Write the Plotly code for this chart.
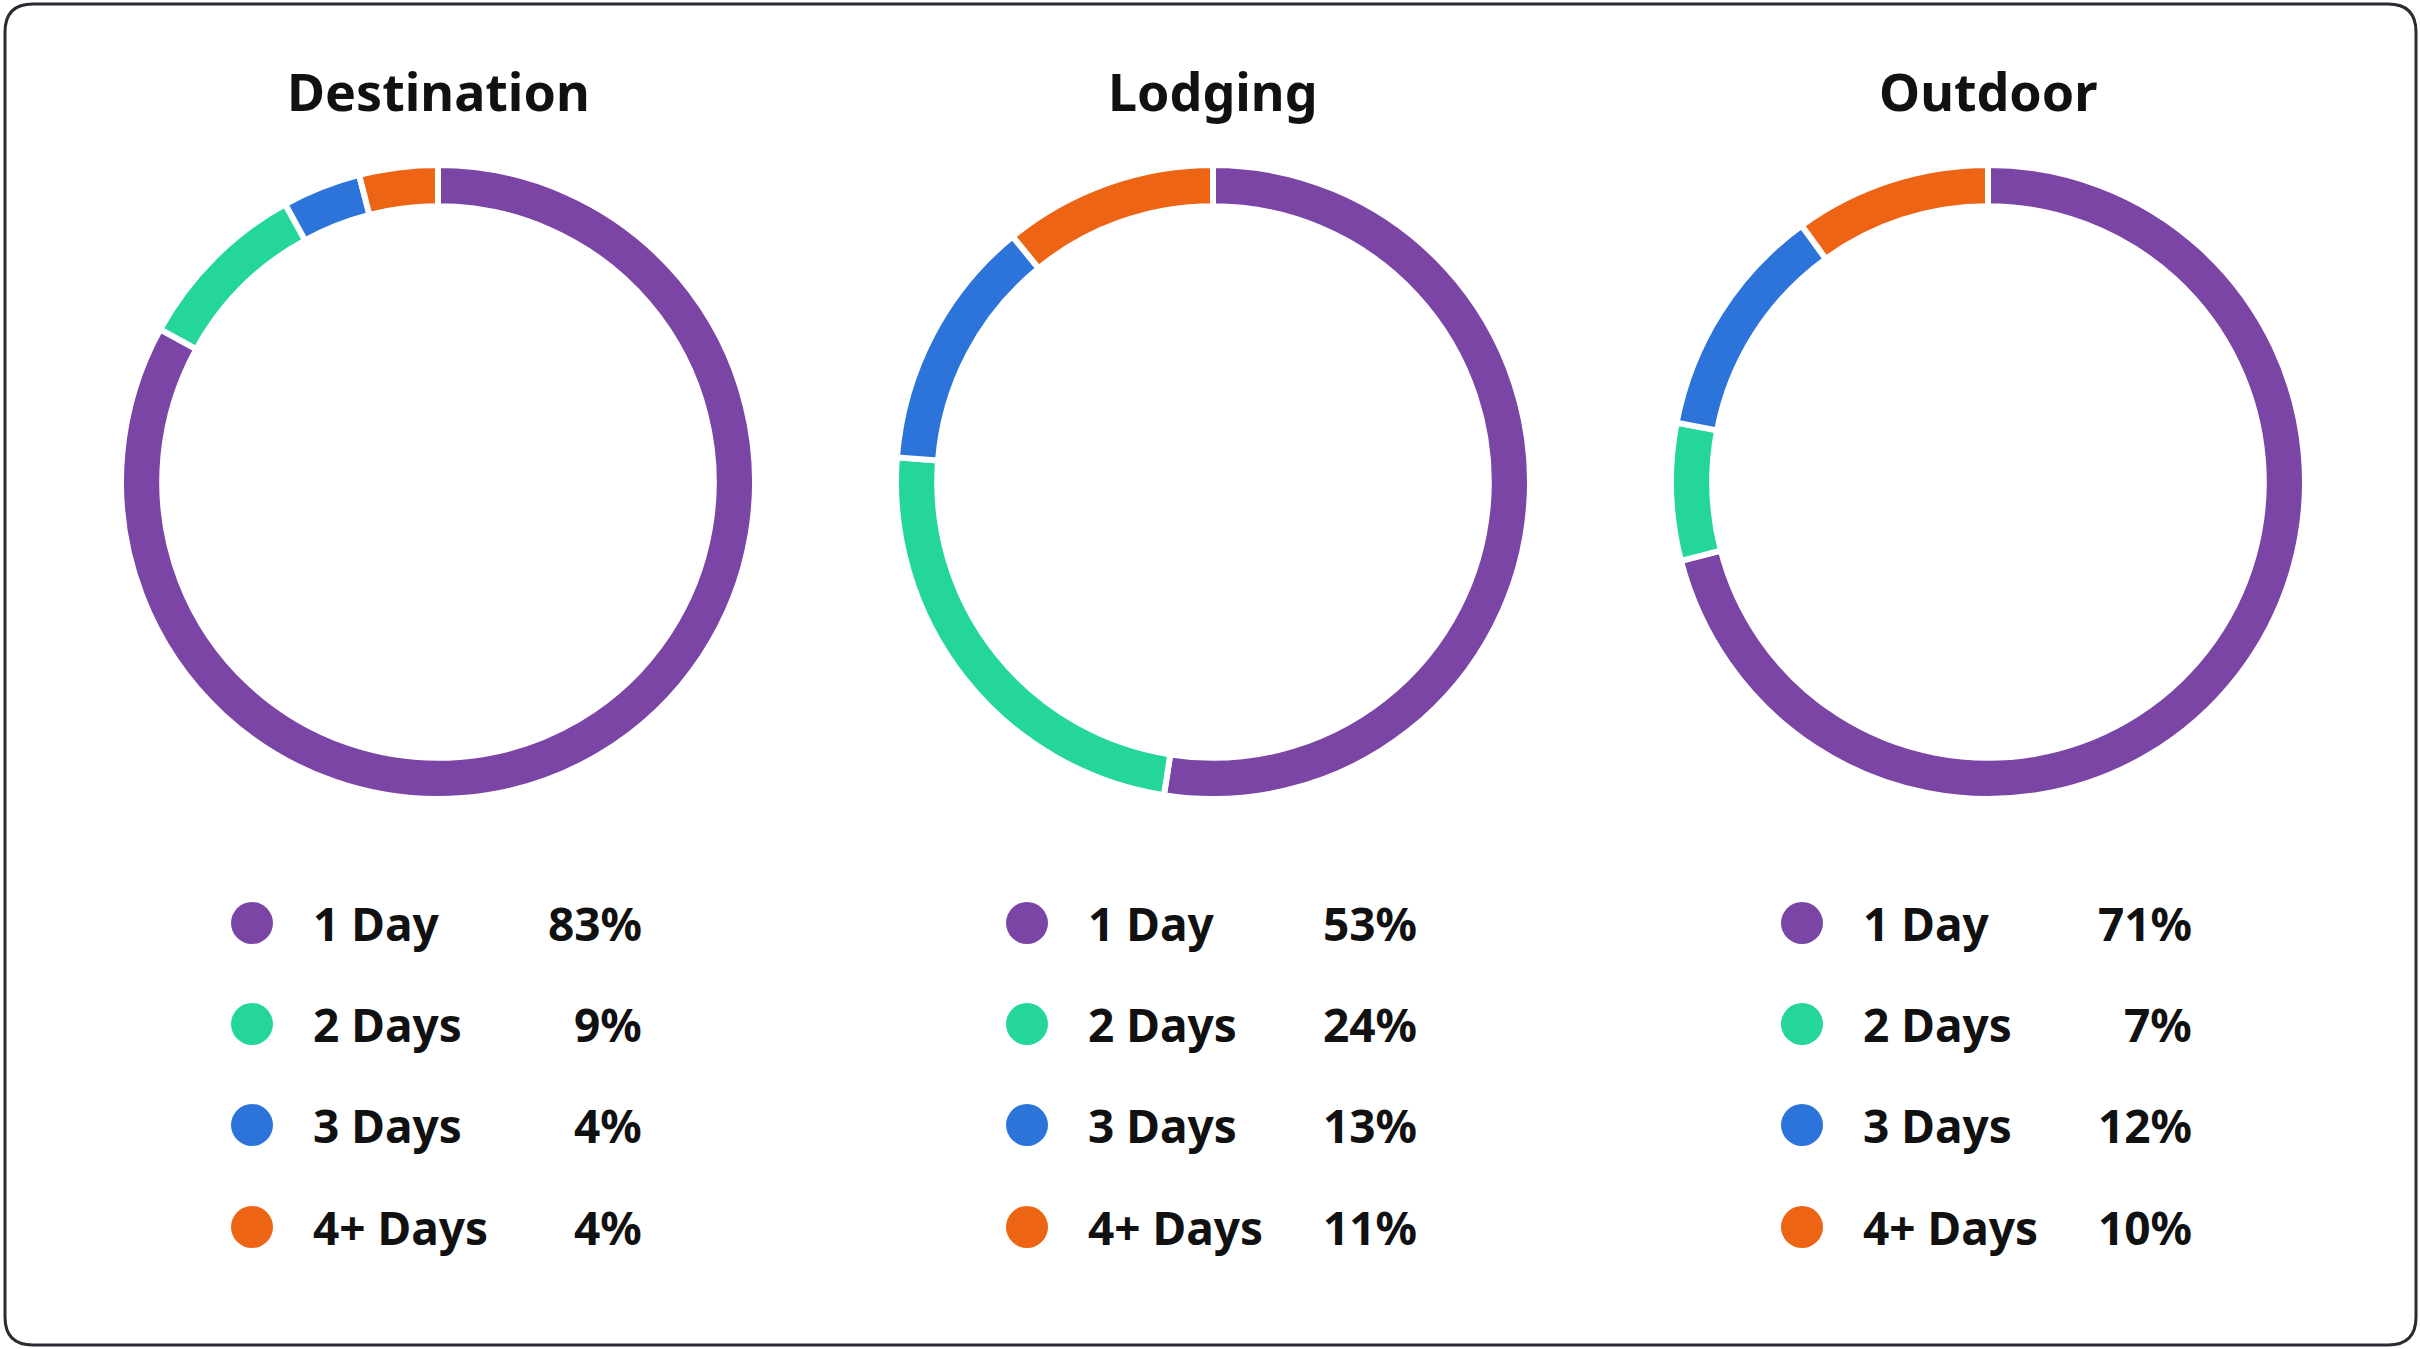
import plotly.graph_objects as go

W, H = 2420, 1349

# ---- data ----
categories = ["1 Day", "2 Days", "3 Days", "4+ Days"]
chart_titles = ["Destination", "Lodging", "Outdoor"]
destination_values = [83, 9, 4, 4]
lodging_values = [53, 24, 13, 11]
outdoor_values = [71, 7, 12, 10]
colors = ["#7B45A5", "#24D69A", "#2C74DA", "#EC6414"]

series = [destination_values, lodging_values, outdoor_values]

# ---- layout (pixels) ----
centers_x = [438, 1213, 1988]
center_y = 482
radius = 317
legend_rows_y = [923, 1024, 1125, 1227]
marker_dx = -186
label_dx = -127
pct_dx = 206
title_y = 90

FONT = "Noto Sans"
TXT = "#111111"

fig = go.Figure()

for cx, vals in zip(centers_x, series):
    fig.add_trace(go.Pie(
        labels=categories,
        values=vals,
        hole=0.87,
        sort=False,
        direction="clockwise",
        rotation=0,
        textinfo="none",
        hoverinfo="label+percent",
        marker=dict(colors=colors, line=dict(color="white", width=6)),
        showlegend=False,
        domain=dict(
            x=[(cx - radius) / W, (cx + radius) / W],
            y=[1 - (center_y + radius) / H, 1 - (center_y - radius) / H],
        ),
    ))

annotations = []
for cx, title, vals in zip(centers_x, chart_titles, series):
    fig.add_trace(go.Scatter(
        x=[cx + marker_dx] * len(categories),
        y=legend_rows_y,
        mode="markers",
        marker=dict(size=42, color=colors, line=dict(width=0)),
        hoverinfo="skip",
        showlegend=False,
        xaxis="x", yaxis="y",
    ))
    annotations.append(dict(
        x=cx, y=title_y, xref="x", yref="y", text=f"<b>{title}</b>",
        showarrow=False, xanchor="center", yanchor="middle",
        font=dict(family=FONT, size=52, color=TXT),
    ))
    for cat, v, ry in zip(categories, vals, legend_rows_y):
        annotations.append(dict(
            x=cx + label_dx, y=ry, xref="x", yref="y", text=f"<b>{cat}</b>",
            showarrow=False, xanchor="left", yanchor="middle",
            font=dict(family=FONT, size=46, color=TXT),
        ))
        annotations.append(dict(
            x=cx + pct_dx, y=ry, xref="x", yref="y", text=f"<b>{v}%</b>",
            showarrow=False, xanchor="right", yanchor="middle",
            font=dict(family=FONT, size=46, color=TXT),
        ))

# rounded border
x0, y0, x1, y1, r = 5, 4, 2416, 1345, 28
path = (f"M {x0+r},{y0} L {x1-r},{y0} Q {x1},{y0} {x1},{y0+r} "
        f"L {x1},{y1-r} Q {x1},{y1} {x1-r},{y1} L {x0+r},{y1} "
        f"Q {x0},{y1} {x0},{y1-r} L {x0},{y0+r} Q {x0},{y0} {x0+r},{y0} Z")

fig.update_layout(
    width=W, height=H,
    margin=dict(l=0, r=0, t=0, b=0),
    paper_bgcolor="white", plot_bgcolor="rgba(0,0,0,0)",
    xaxis=dict(range=[0, W], visible=False, fixedrange=True, domain=[0, 1]),
    yaxis=dict(range=[H, 0], visible=False, fixedrange=True, domain=[0, 1]),
    annotations=annotations,
    shapes=[dict(type="path", path=path, xref="x", yref="y",
                 line=dict(color="#2b2b33", width=3), layer="above")],
    font=dict(family=FONT),
)

fig.write_html(
    "out.html",
    config={"displayModeBar": False},
    post_script="document.body.style.margin='0px';document.body.style.overflow='hidden';",
)
